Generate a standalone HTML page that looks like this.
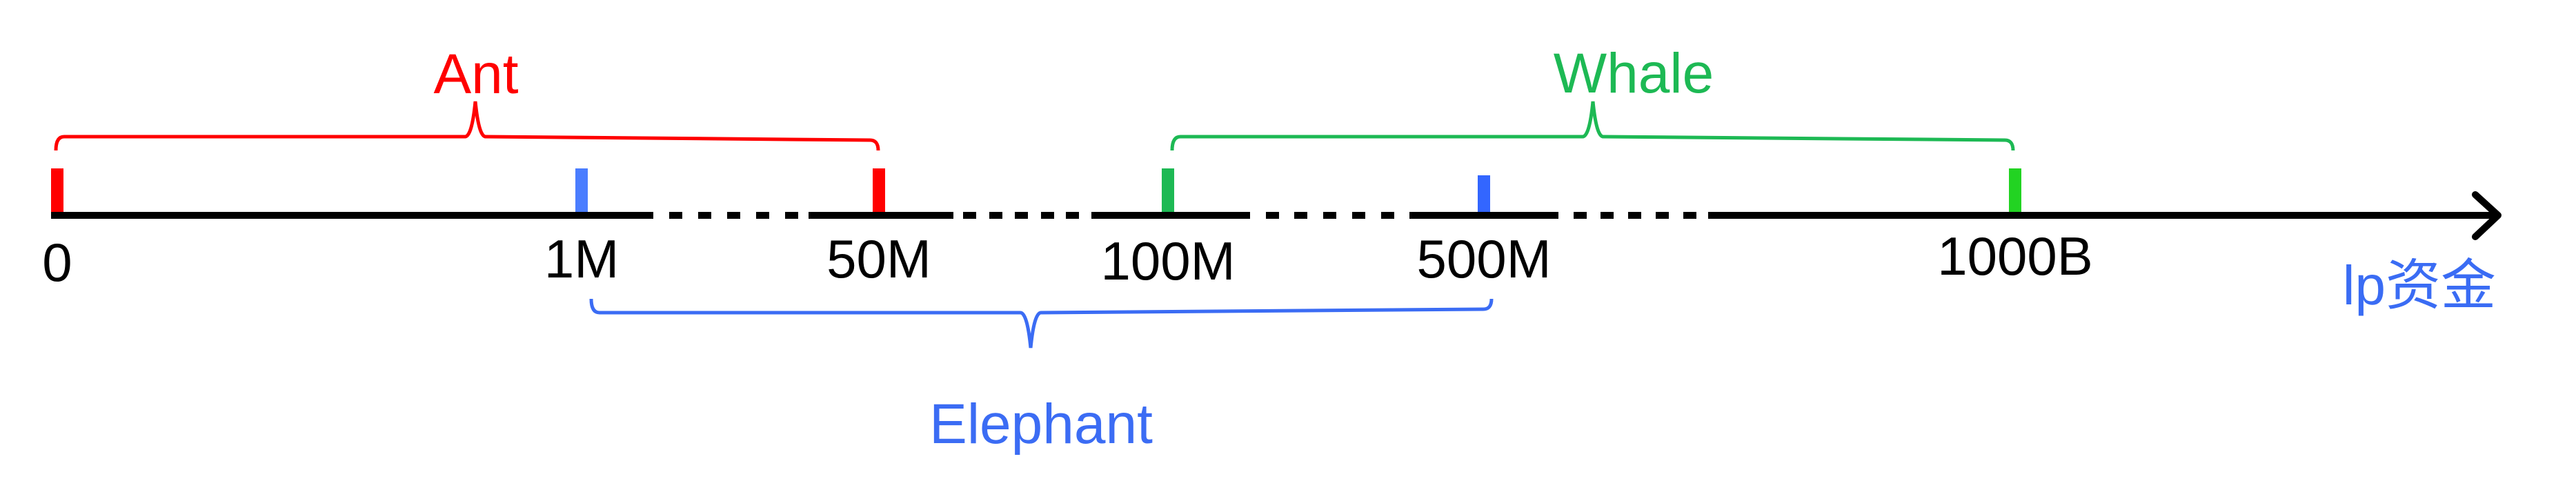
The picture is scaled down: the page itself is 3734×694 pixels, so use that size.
<!DOCTYPE html>
<html><head><meta charset="utf-8"><style>
html,body{margin:0;padding:0;background:#fff;}
svg{display:block;}
text{font-family:"Liberation Sans","Noto Sans CJK SC",sans-serif;}
</style></head><body>
<svg id="chart" width="3734" height="694" viewBox="0 0 3734 694" xmlns="http://www.w3.org/2000/svg"></svg>
<script>
const tickLabels = ["0","1M","50M","100M","500M","1000B"];
const tickGroups = ["ant","elephant","ant","whale","elephant","whale"];
const groupNames = ["Ant","Elephant","Whale"];
const groupRanges = [[0,2],[1,4],[3,5]];
const brokenAfter = [1,2,3,4];

// axis function: ordinal tick index -> pixel position
const tickPx = [83, 843, 1274, 1693, 2151, 2921];
function xScale(i){ return tickPx[i]; }
const axisY = 312;
const svg = document.getElementById('chart');
const NS = 'http://www.w3.org/2000/svg';
function mk(tag, attrs, parent){
  const e = document.createElementNS(NS, tag);
  for (const k in attrs) e.setAttribute(k, attrs[k]);
  (parent||svg).appendChild(e);
  return e;
}
const tickColor = {ant:'#ff0000', elephant:'#4a7dff', whale:'#1db954'};
const groupColor = {Ant:'#ff0000', Elephant:'#3b6cf4', Whale:'#1db954'};

// axis segments (solid + dotted breaks)
const solid = [[74,947],[1172,1382],[1582,1812],[2043,2259],[2476,3620]];
solid.forEach(s=>{
  const r = mk('rect',{x:s[0],y:axisY-5,width:s[1]-s[0],height:10,fill:'#000'});
  
  
});
const dots = [[970,1012,1054,1096,1138],[1396,1434,1471,1509,1545],[1835,1876,1918,1960,2002],[2281,2320,2360,2400,2440]];
dots.forEach(g=>g.forEach(x=>{
  const r = mk('rect',{x:x,y:axisY-5,width:19,height:10,fill:'#000'});
  
  
}));
// arrow
const ar = mk('path',{d:'M3588 282 L3621 312 L3588 343',fill:'none',stroke:'#000','stroke-width':10,'stroke-linecap':'round','stroke-linejoin':'round'});



// ticks + labels
const labelY = [407,402,402,405,402,398];
tickLabels.forEach((lab,i)=>{
  const x = xScale(i);
  let col = tickColor[tickGroups[i]];
  let top = 244;
  if (i===4){ col='#3366ff'; top=254; }
  if (i===5){ col='#22d322'; }
  const t = mk('rect',{x:x-9,y:top,width:18,height:axisY-5-top,fill:col});
  
  
  const tx = mk('text',{x:x,y:labelY[i],'text-anchor':'middle','font-size':78,fill:'#000'});
  tx.textContent = lab;
  
  
});

// braces
function brace(x1,x2,peakX,up,col,name){
  const s = up? -1 : 1;
  const yTip = up? 218 : 433;
  const yLine = yTip + s*20;
  const yPeak = yLine + s*51;
  const d = `M${x1} ${yTip} Q${x1} ${yLine} ${x1+12} ${yLine} L${peakX-15} ${yLine} Q${peakX-5} ${yLine} ${peakX} ${yPeak} Q${peakX+5} ${yLine} ${peakX+15} ${yLine+s*-0} L${x2-12} ${yLine+s*-5} Q${x2} ${yLine+s*-5} ${x2} ${yTip}`;
  const p = mk('path',{d:d,fill:'none',stroke:col,'stroke-width':5});
  
  
}
brace(81,1273,689,true,'#ff0000','ant-brace');
brace(1699,2918,2309,true,'#1db954','whale-brace');
brace(857,2162,1494,false,'#3b6cf4','elephant-brace');

const gtext = [[690,135],[1509,642],[2368,134]];
groupNames.forEach((g,i)=>{
  const t = mk('text',{x:gtext[i][0],y:gtext[i][1],'text-anchor':'middle','font-size':82,fill:groupColor[g]});
  t.textContent = g;
  
  
});
const at = mk('text',{x:3618,y:441,'text-anchor':'end','font-size':80,fill:'#3a6cf4'});
at.textContent = 'lp资金';


</script>
</body></html>
